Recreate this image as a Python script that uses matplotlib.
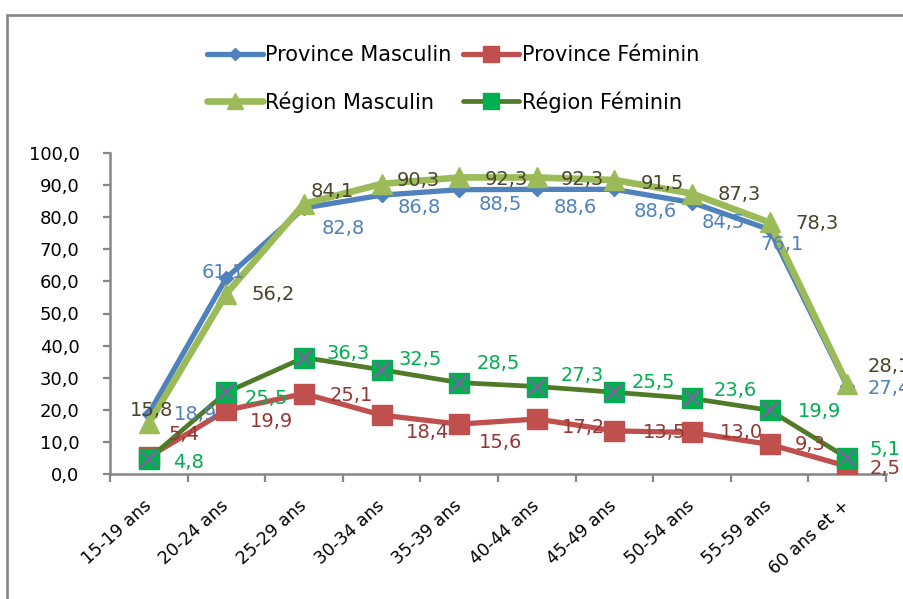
import matplotlib
matplotlib.use("Agg")
import matplotlib.pyplot as plt
from matplotlib.patches import Rectangle

# ---------------- data ----------------
categories = ["15-19 ans", "20-24 ans", "25-29 ans", "30-34 ans", "35-39 ans",
              "40-44 ans", "45-49 ans", "50-54 ans", "55-59 ans", "60 ans et +"]
province_masculin = [18.9, 61.1, 82.8, 86.8, 88.5, 88.6, 88.6, 84.5, 76.1, 27.4]
province_feminin = [5.4, 19.9, 25.1, 18.4, 15.6, 17.2, 13.5, 13.0, 9.3, 2.5]
region_masculin = [15.8, 56.2, 84.1, 90.3, 92.3, 92.3, 91.5, 87.3, 78.3, 28.1]
region_feminin = [4.8, 25.5, 36.3, 32.5, 28.5, 27.3, 25.5, 23.6, 19.9, 5.1]
y_ticks = [0, 10, 20, 30, 40, 50, 60, 70, 80, 90, 100]

# ---------------- style ----------------
plt.rcParams['font.family'] = ['DejaVu Sans']
GRAY = '#868686'
PX = 0.72  # points per pixel at dpi 100

# label offsets (pixels, x right / y down) for each point
off_pm = [(47, 1), (-3, -5), (39, 20), (38, 12), (41, 15), (38, 18), (41, 22), (31, 20), (12, 15), (42, 2)]
off_pf = [(35, -22), (45, 11), (47, 2), (46, 17), (41, 18), (47, 9), (50, 2), (49, 0), (41, 0), (38, 2)]
off_rm = [(3, -13), (47, 1), (28, -12), (37, -3), (47, 2), (46, 2), (48, 3), (47, 1), (47, 1), (42, -17)]
off_rf = [(40, 4), (40, 6), (44, -4), (39, -10), (39, -19), (45, -11), (39, -10), (43, -8), (50, 1), (38, -8)]

fig = plt.figure(figsize=(9.04, 5.99), dpi=100)
ax = fig.add_axes([110 / 904, 1 - 474.3 / 599, (886 - 110) / 904, (474.3 - 152.7) / 599])

x = list(range(len(categories)))

series = [
    ("Province Masculin", province_masculin, dict(color='#4F81BD', lw=3.8, marker='D', ms=7.5,
                                                  mfc='#4F81BD', mec='#4F81BD'), '#4F81BD', off_pm),
    ("Province Féminin", province_feminin, dict(color='#C0504D', lw=3.8, marker='s', ms=14,
                                                mfc='#C0504D', mec='#C0504D'), '#953735', off_pf),
    ("Région Masculin", region_masculin, dict(color='#9BBB59', lw=4.8, marker='^', ms=14,
                                              mfc='#9BBB59', mec='#9BBB59'), '#4A452A', off_rm),
    ("Région Féminin", region_feminin, dict(color='#4F7A28', lw=3.4, marker='s', ms=14,
                                            mfc='#00B050', mec='#00B050'), '#00B050', off_rf),
]

handles = []
for i, (name, vals, st, lcol, offs) in enumerate(series):
    h, = ax.plot(x, vals, label=name, zorder=3 + i, solid_capstyle='round', **st)
    if name == "Région Féminin":
        ax.plot(x, vals, linestyle='none', marker='x', ms=12, mew=1.6,
                color='#8064A2', zorder=3 + i + 0.5)
    handles.append(h)

for name, vals, st, lcol, offs in series:
    for xi, v, (dx, dy) in zip(x, vals, offs):
        ax.annotate(f"{v:.1f}".replace('.', ','), (xi, v), xytext=(dx * PX, -dy * PX),
                    textcoords='offset points', ha='center', va='center',
                    fontsize=14, color=lcol, zorder=20, annotation_clip=False)

ax.set_xlim(-0.5, len(categories) - 0.5)
ax.set_ylim(0, 100)
ax.set_yticks(y_ticks)
ax.set_yticklabels([f"{t:.1f}".replace('.', ',') for t in y_ticks], fontsize=13)

# category ticks at boundaries, labels at centres
ax.set_xticks([i - 0.5 for i in range(len(categories) + 1)])
ax.set_xticklabels([])
ax.set_xticks(x, minor=True)
ax.set_xticklabels(categories, minor=True, rotation=42, ha='right', va='center',
                   rotation_mode='anchor', fontsize=12.5)
ax.tick_params(axis='x', which='minor', length=0, pad=21)
ax.tick_params(axis='x', which='major', length=6, width=1.6, color=GRAY, direction='out')
ax.tick_params(axis='y', length=5, width=1.6, color=GRAY, direction='out', pad=17)

for s in ['top', 'right']:
    ax.spines[s].set_visible(False)
for s in ['left', 'bottom']:
    ax.spines[s].set_color(GRAY)
    ax.spines[s].set_linewidth(1.8)

# legend (row-major order like the reference)
order = [0, 2, 1, 3]
fig.legend(handles=[handles[k] for k in order], labels=[handles[k].get_label() for k in order],
           ncol=2, loc='upper left', bbox_to_anchor=(207 / 904, 1 - 45 / 599),
           frameon=False, fontsize=15, handlelength=2.7, handletextpad=0.1,
           columnspacing=0.55, labelspacing=1.25, borderpad=0, borderaxespad=0,
           markerscale=0.8)

# outer border (cropped on right and bottom)
fig.patches.append(Rectangle((7 / 904, -0.2), 1.5, 1.2 - 15 / 599, transform=fig.transFigure,
                             fill=False, edgecolor=GRAY, linewidth=1.9, zorder=0))

fig.savefig("out.png", dpi=100)
